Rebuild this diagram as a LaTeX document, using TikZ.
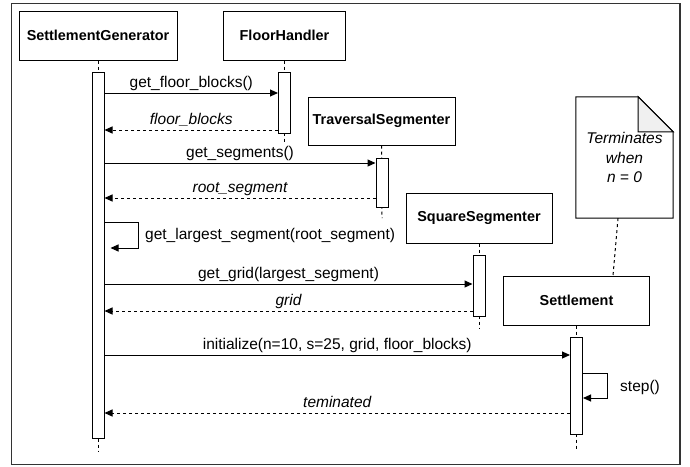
\documentclass[tikz,border=0pt]{standalone}
\usepackage{fontspec}
\setmainfont{Liberation Sans}
\usetikzlibrary{arrows.meta,calc}
\begin{document}
\begin{tikzpicture}[x=1pt,y=-1pt,
  lbl/.style={font=\fontsize{15.5}{18}\selectfont, inner sep=0pt, anchor=base, yshift=6pt},
  ilbl/.style={lbl, font=\fontsize{15.5}{18}\selectfont\itshape},
  actor/.style={draw, line width=1pt, minimum height=49pt, font=\bfseries\fontsize{14.4}{17}\selectfont, inner sep=0pt},
  act/.style={draw, fill=white, line width=1pt, minimum width=12pt, inner sep=0pt},
  life/.style={line width=1pt, dash pattern=on 3pt off 3pt},
  call/.style={line width=1pt, -{Triangle[length=8pt,width=7pt]}},
  ret/.style={call, dash pattern=on 3pt off 3pt}]
\useasboundingbox (0,0) rectangle (690,466);
\draw[line width=1.2pt, draw=black!80] (11.5,3.5) rectangle (680,464.5);

% participants
\node[actor, minimum width=158pt] (SG) at (98,35.5) {SettlementGenerator};
\node[actor, minimum width=122pt] (FH) at (284.5,35.5) {FloorHandler};
\node[actor, minimum width=147pt, minimum height=48pt] (TS) at (381.5,121) {TraversalSegmenter};
\node[actor, minimum width=146pt, minimum height=50pt] (SS) at (479,218) {SquareSegmenter};
\node[actor, minimum width=146pt] (ST) at (576.5,300.5) {Settlement};

% lifeline ends
\coordinate (e1) at (98,451);
\coordinate (e2) at (284.5,144);
\coordinate (e3) at (382,218);
\coordinate (e4) at (479,328);
\coordinate (e5) at (576.5,450);

% activations geometry (for lifelines)
\coordinate (a1t) at (98,72);
\coordinate (a2t) at (284.5,72);
\coordinate (a3t) at (382,158);
\coordinate (a4t) at (479,255);
\coordinate (a5t) at (576.5,337);

\draw[life] (SG.south) -- (a1t) (SG.south) -- (e1);
\draw[life] (FH.south) -- (e2);
\draw[life] (TS.south) -- (e3);
\draw[life] (SS.south) -- (e4);
\draw[life] (ST.south) -- (e5);

\node[act, minimum height=366pt] (A1) at (98,255) {};
\node[act, minimum height=61pt] (A2) at (284.5,102.5) {};
\node[act, minimum height=49pt] (A3) at (382,182.5) {};
\node[act, minimum height=61pt] (A4) at (479,285.5) {};
\node[act, minimum height=97pt] (A5) at (576.5,385.5) {};

% message rows
\coordinate (y1) at (0,93);
\coordinate (y2) at (0,130);
\coordinate (y3) at (0,163);
\coordinate (y4) at (0,198);
\coordinate (y5) at (0,222);
\coordinate (y5b) at (0,248);
\coordinate (y6) at (0,284);
\coordinate (y7) at (0,311);
\coordinate (y8) at (0,355);
\coordinate (y9) at (0,373);
\coordinate (y9b) at (0,398);
\coordinate (y10) at (0,413);

\draw[call] (A1.east |- y1) -- node[lbl] {get\_floor\_blocks()} (A2.west |- y1);
\draw[ret] (A2.west |- y2) -- node[ilbl] {floor\_blocks} (A1.east |- y2);
\draw[call] (A1.east |- y3) -- node[lbl] {get\_segments()} (A3.west |- y3);
\draw[ret] (A3.west |- y4) -- node[ilbl] {root\_segment} (A1.east |- y4);
\draw[call] (A1.east |- y5) -- ++(34,0) -- ++(0,26) -- ([xshift=6pt]A1.east |- y5b);
\node[font=\fontsize{15.5}{18}\selectfont, inner sep=0pt, anchor=base west] (L5) at (145,239.5) {get\_largest\_segment(root\_segment)};
\draw[call] (A1.east |- y6) -- node[lbl] {get\_grid(largest\_segment)} (A4.west |- y6);
\draw[ret] (A4.west |- y7) -- node[ilbl] {grid} (A1.east |- y7);
\draw[call] (A1.east |- y8) -- node[lbl] {initialize(n=10, s=25, grid, floor\_blocks)} (A5.west |- y8);
\draw[call] (A5.east |- y9) -- ++(24,0) -- ++(0,25) -- (A5.east |- y9b);
\node[font=\fontsize{15.5}{18}\selectfont, inner sep=0pt, anchor=base west] (L9) at (620,391.5) {step()};
\draw[ret] (A5.west |- y10) -- node[ilbl] {teminated} (A1.east |- y10);

% note
\node[minimum width=97pt, minimum height=121pt, inner sep=0pt, align=center,
  font=\itshape\fontsize{15.5}{19.5}\selectfont] (note) at (624.5,157.5) {Terminates\\when\\n = 0};
\draw[line width=1pt] (note.north west) -- ([xshift=-35pt]note.north east) -- ([yshift=-35pt]note.north east) -- (note.south east) -- (note.south west) -- cycle;
\draw[line width=1pt, fill=gray!12] ([xshift=-35pt]note.north east) -- ([xshift=-35pt,yshift=-35pt]note.north east) -- ([yshift=-35pt]note.north east) -- cycle;
\draw[life] ([xshift=-6.5pt]note.south) -- ([xshift=36.5pt]ST.north);
\end{tikzpicture}
\end{document}
